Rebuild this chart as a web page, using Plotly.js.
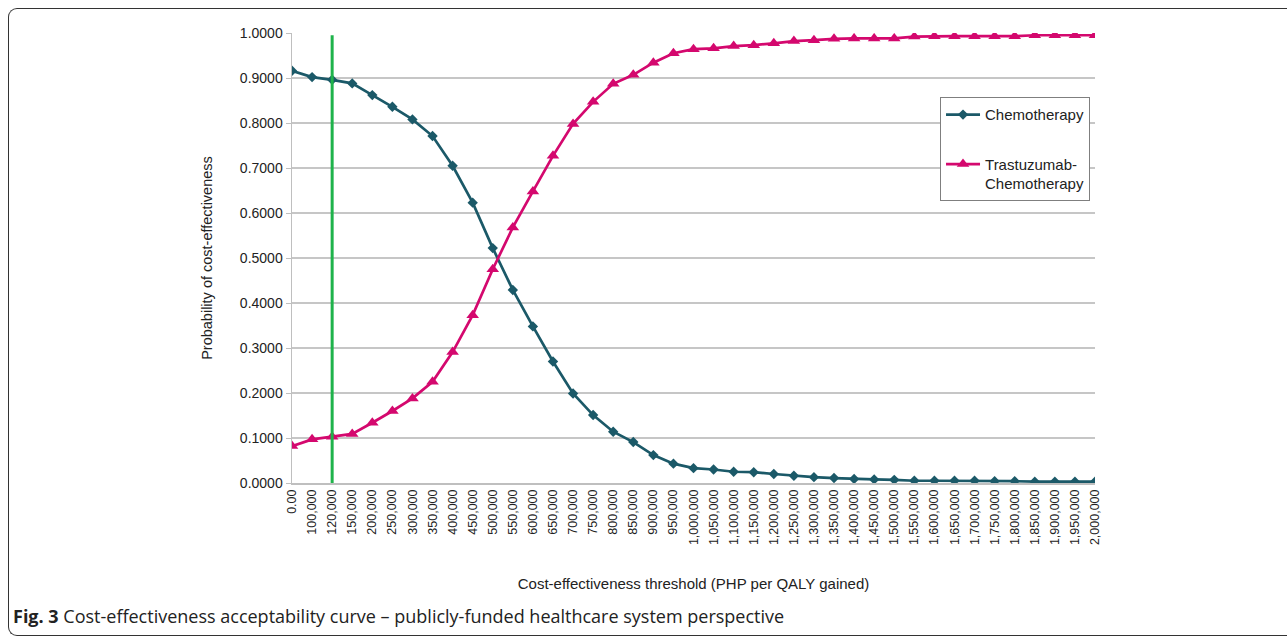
<!DOCTYPE html>
<html>
<head>
<meta charset="utf-8">
<script src="https://cdn.plot.ly/plotly-3.0.1.min.js"></script>
<style>
  html, body { margin: 0; padding: 0; background: #fff; }
  #wrap { position: relative; width: 1287px; height: 638px; overflow: hidden; }
  #chart { position: absolute; left: 0; top: 0; width: 1287px; height: 638px; }
  #frame { position: absolute; left: 8px; top: 8px; width: 1300px; height: 628px;
           border: 1.7px solid #333; border-right: none; border-radius: 9px 0 0 9px;
           pointer-events: none; box-sizing: border-box; }
  #caption { position: absolute; left: 13px; top: 604px; font-family: "Open Sans", "Noto Sans", sans-serif;
             font-size: 18px; color: #222; white-space: nowrap; }
</style>
</head>
<body>
<div id="wrap">
  <div id="chart"></div>
  <div id="frame"></div>
  <div id="caption"><b>Fig. 3</b> Cost-effectiveness acceptability curve – publicly-funded healthcare system perspective</div>
</div>
<script>
const thresholds = ["0.00","100,000","120,000","150,000","200,000","250,000","300,000","350,000","400,000","450,000",
  "500,000","550,000","600,000","650,000","700,000","750,000","800,000","850,000","900,000","950,000",
  "1,000,000","1,050,000","1,100,000","1,150,000","1,200,000","1,250,000","1,300,000","1,350,000","1,400,000","1,450,000",
  "1,500,000","1,550,000","1,600,000","1,650,000","1,700,000","1,750,000","1,800,000","1,850,000","1,900,000","1,950,000","2,000,000"];

const chemotherapy = [0.916,0.902,0.896,0.888,0.862,0.836,0.808,0.771,0.705,0.623,
  0.522,0.429,0.348,0.270,0.199,0.151,0.114,0.091,0.062,0.043,
  0.033,0.030,0.025,0.024,0.020,0.016,0.013,0.011,0.009,0.008,
  0.007,0.005,0.005,0.005,0.005,0.004,0.004,0.003,0.003,0.003,0.003];

const trastuzumabChemo = [0.082,0.097,0.103,0.109,0.134,0.160,0.188,0.225,0.291,0.373,
  0.475,0.568,0.648,0.727,0.798,0.847,0.887,0.907,0.934,0.955,
  0.964,0.966,0.971,0.973,0.977,0.982,0.984,0.987,0.988,0.988,
  0.988,0.992,0.993,0.993,0.993,0.993,0.993,0.995,0.995,0.995,0.995];

const referenceThreshold = "120,000";
const yTicks = [0,0.1,0.2,0.3,0.4,0.5,0.6,0.7,0.8,0.9,1.0];

const traces = [
  { x: thresholds, y: chemotherapy, name: "Chemotherapy", legendgroup: "g1", type: "scatter", mode: "lines+markers",
    line: { color: "#1b5968", width: 2.7 }, marker: { symbol: "diamond", size: 8, color: "#1b5968" } },
  { x: thresholds, y: trastuzumabChemo, name: "Trastuzumab-<br>Chemotherapy", legendgroup: "g2", type: "scatter", mode: "lines+markers",
    line: { color: "#d4086e", width: 2.7 }, marker: { symbol: "triangle-up", size: 11, color: "#d4086e" } }
];

const layout = {
  width: 1287, height: 638,
  margin: { l: 292, r: 192, t: 33, b: 155, autoexpand: false },
  paper_bgcolor: "#fff", plot_bgcolor: "#fff",
  font: { family: "Liberation Sans, Arial, sans-serif", color: "#222", size: 13 },
  showlegend: true,
  legend: { x: 0.807, y: 0.857, xanchor: "left", yanchor: "top", bordercolor: "#7f7f7f", borderwidth: 1,
            bgcolor: "#fff", font: { size: 15, color: "#222" }, traceorder: "grouped", tracegroupgap: 27,
            valign: "top", itemwidth: 34, orientation: "v" },
  xaxis: {
    type: "category", categoryorder: "array", categoryarray: thresholds,
    range: [0, thresholds.length - 1], tickangle: -90, tickfont: { size: 12.5 },
    showgrid: false, showline: true, linecolor: "#bfbfbf", linewidth: 1.5, zeroline: false,
    ticks: "", automargin: false,
    title: { text: "Cost-effectiveness threshold (PHP per QALY gained)", font: { size: 15 }, standoff: 34 }
  },
  yaxis: {
    range: [0, 1.0], tickvals: yTicks, ticktext: yTicks.map(v => v.toFixed(4)),
    showgrid: true, gridcolor: "#c6c6c6", gridwidth: 1.3, showline: true, linecolor: "#bfbfbf", linewidth: 1.5,
    zeroline: false, ticks: "outside", ticklen: 5, tickcolor: "#bfbfbf", tickfont: { size: 14 }, automargin: false,
    title: { text: "Probability of cost-effectiveness", font: { size: 14.5 }, standoff: 24 }
  },
  shapes: [
    { type: "line", xref: "x", yref: "y", x0: referenceThreshold, x1: referenceThreshold, y0: 0, y1: 0.995,
      line: { color: "#1fb34b", width: 3 }, layer: "above" }
  ]
};

Plotly.newPlot("chart", traces, layout, { displayModeBar: false, staticPlot: true });
</script>
</body>
</html>
